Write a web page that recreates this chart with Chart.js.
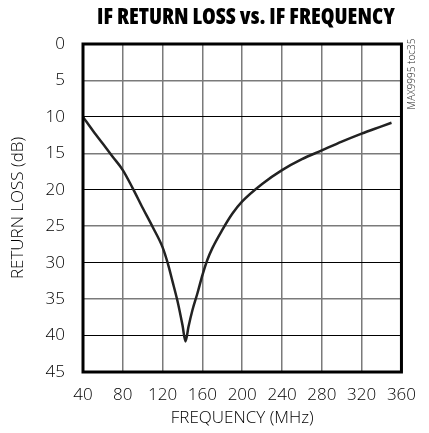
<!DOCTYPE html>
<html>
<head>
<meta charset="utf-8">
<script src="https://cdn.jsdelivr.net/npm/chart.js@4.4.1/dist/chart.umd.min.js"></script>
<style>
    body { margin: 0; background: #fff; }
    #wrap { position: relative; width: 429px; height: 433px; }
    #title {
        position: absolute; left: 97px; top: 0px; width: 298px; height: 28px;
        white-space: nowrap; color: #000;
        font-family: 'Open Sans', sans-serif; font-size: 22px; font-weight: 800; font-stretch: condensed;
    }
    #title span { display: inline-block; transform-origin: 0 0; }
</style>
</head>
<body>
<div id="wrap">
    <div id="title"><span>IF RETURN LOSS vs. IF FREQUENCY</span></div>
    <canvas id="lossChart" width="429" height="433"></canvas>
</div>
<script>
// values
const freqMHz = [40, 50, 60, 70, 80, 90, 100, 110, 120, 125, 130, 135, 140, 143, 146, 150, 155, 160, 165, 170, 180, 190, 200, 220, 240, 260, 280, 300, 320, 340, 350];
const returnLossDb = [10, 11.9, 13.7, 15.5, 17.3, 19.8, 22.5, 25.1, 27.9, 30.0, 32.6, 35.3, 38.6, 40.8, 38.8, 36.5, 34.2, 31.7, 29.6, 28.0, 25.5, 23.3, 21.6, 19.2, 17.3, 15.8, 14.6, 13.4, 12.3, 11.3, 10.8];
const xTicks = [40, 80, 120, 160, 200, 240, 280, 320, 360];
const yTicks = [0, 5, 10, 15, 20, 25, 30, 35, 40, 45];
const sideNote = 'MAX9995 toc35';

// light condensed face: Open Sans with its width axis pulled in
const thin = { family: "'Open Sans', sans-serif", style: 'condensed', weight: 350, size: 17 };

// squeeze the heavy title to the width it has in the reference
const titleSpan = document.querySelector('#title span');
titleSpan.style.transform = 'scaleX(' + (298 / titleSpan.offsetWidth) + ')';

// thick frame round the plot + the small rotated note on the right
const framePlugin = {
    id: 'frame',
    afterDraw(chart) {
        const a = chart.chartArea;
        const ctx = chart.ctx;
        ctx.save();
        ctx.strokeStyle = '#000';
        ctx.lineWidth = 3;
        ctx.strokeRect(a.left, a.top, a.right - a.left, a.bottom - a.top);
        ctx.translate(a.right + 11, a.top + 30);
        ctx.rotate(-Math.PI / 2);
        ctx.fillStyle = '#222';
        ctx.font = "300 10px 'Open Sans', sans-serif";
        ctx.textAlign = 'center';
        ctx.textBaseline = 'middle';
        ctx.fillText(sideNote, 0, 0);
        ctx.restore();
    }
};

const ctx = document.getElementById('lossChart').getContext('2d');
const lossChart = new Chart(ctx, {
    type: 'line',
    data: {
        datasets: [{
            data: freqMHz.map((f, i) => ({ x: f, y: returnLossDb[i] })),
            borderColor: '#222',
            borderWidth: 2.5,
            pointRadius: 0,
            cubicInterpolationMode: 'monotone',
            fill: false
        }]
    },
    options: {
        responsive: false,
        animation: false,
        layout: { padding: { top: 44, right: 18, left: 0, bottom: 0 } },
        plugins: { legend: { display: false }, tooltip: { enabled: false } },
        scales: {
            x: {
                type: 'linear',
                min: xTicks[0],
                max: xTicks[xTicks.length - 1],
                afterBuildTicks: s => { s.ticks = xTicks.map(v => ({ value: v })); },
                afterFit: s => { s.height = 61; },
                grid: { color: '#7a7a7a', lineWidth: 1.5, drawTicks: false },
                border: { display: false },
                ticks: { color: '#000', padding: 13, maxRotation: 0, font: thin },
                title: { display: true, text: 'FREQUENCY (MHz)', color: '#000', padding: { top: 0, bottom: 5 }, font: thin }
            },
            y: {
                reverse: true,
                min: yTicks[0],
                max: yTicks[yTicks.length - 1],
                afterBuildTicks: s => { s.ticks = yTicks.map(v => ({ value: v })); },
                afterFit: s => { s.width = 83; },
                grid: {
                    color: c => (c.tick && c.tick.value % 10 === 0) ? '#000' : '#7a7a7a',
                    lineWidth: c => (c.tick && c.tick.value % 10 === 0) ? 1 : 1.5,
                    drawTicks: false
                },
                border: { display: false },
                ticks: { color: '#000', padding: 18, font: thin },
                title: { display: true, text: 'RETURN LOSS (dB)', color: '#000', padding: { top: 8, bottom: 0 }, font: thin }
            }
        }
    },
    plugins: [framePlugin]
});
</script>
</body>
</html>
